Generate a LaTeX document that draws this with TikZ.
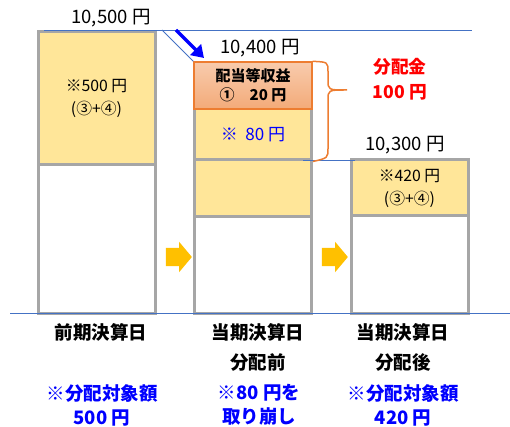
\documentclass[tikz,border=0pt]{standalone}
\usepackage{fontspec}
\setmainfont{Noto Sans CJK JP}
\usetikzlibrary{shapes.arrows, positioning, arrows.meta}

\definecolor{boxgray}{RGB}{166,166,166}
\definecolor{boxyellow}{RGB}{255,230,153}
\definecolor{lineblue}{RGB}{68,114,196}
\definecolor{boxorange}{RGB}{237,125,49}
\definecolor{goldarrow}{RGB}{255,192,0}

\begin{document}
\begin{tikzpicture}[
    x=1pt, y=-1pt,
    bar/.style={
        draw=boxgray, line width=3pt, minimum width=117pt,
        inner sep=0pt, align=center, font=\fontsize{15.8}{23}\selectfont
    },
    yellowbar/.style={bar, fill=boxyellow},
    whitebar/.style={bar, fill=white},
    divbar/.style={
        draw=boxorange, line width=1.3pt, minimum width=118pt, inner sep=0pt,
        align=center, top color=boxorange!40!white, bottom color=boxorange!65!white,
        font=\bfseries\fontsize{15}{19}\selectfont
    },
    level/.style={draw=lineblue, line width=0.8pt},
    value/.style={font=\fontsize{18.5}{20}\selectfont},
    caption/.style={font=\bfseries\fontsize{18.5}{30}\selectfont, align=center},
    note/.style={font=\bfseries\fontsize{18.5}{24}\selectfont, align=center, text=blue},
    step arrow/.style={
        single arrow, fill=goldarrow, draw=none, minimum height=26pt,
        inner xsep=0pt, inner ysep=9pt, single arrow head extend=6pt,
        single arrow tip angle=100
    }
]
\useasboundingbox (0,0) rectangle (510,427);

% -------------------------
% Bars
% -------------------------

% 1. previous closing date
\node[whitebar, minimum height=150pt] (prevbase) at (96.5,238) {};
\node[yellowbar, minimum height=133pt] (prevtop) at (96.5,98) {※500 円\\(③+④)};

% 2. current closing date, before distribution
\node[whitebar, minimum height=96pt] (prebase) at (253,265) {};
\node[yellowbar, minimum height=57pt] (prelow) at (253,188.5) {};
\node[yellowbar, minimum height=51pt, text=blue, font=\fontsize{17}{20}\selectfont] (premid) at (253,134.5) {※\ \ 80 円};
\node[divbar, minimum height=47pt] (preinc) at (253,85.5) {配当等収益\\①\quad 20 円};

% 3. current closing date, after distribution
\node[whitebar, minimum height=97pt] (postbase) at (409.5,264.5) {};
\node[yellowbar, minimum height=56pt] (posttop) at (409.5,188) {※420 円\\(③+④)};

% -------------------------
% Levels
% -------------------------
\coordinate (topleft) at (44,30);
\coordinate (topright) at (472,30);
\coordinate (slopestart) at (162,30);
\coordinate (midleft) at (303,160);
\coordinate (midright) at (355,160);
\coordinate (baseleft) at (10,313);
\coordinate (baseright) at (510,313);

\draw[level] (topleft) -- (topright);
\draw[level] (slopestart) -- (preinc.north west);
\draw[level] (midleft) -- (midright);
\draw[level] (baseleft) -- (baseright);

% thick blue arrow
\coordinate (dropstart) at (176,30);
\coordinate (dropend) at (204,58);
\draw[blue, line width=3.5pt, -{Triangle[length=12pt,width=15pt]}] (dropstart) -- (dropend);

% values
\node[value] (prevval) at (111,18) {10,500 円};
\node[value] (preval) at (260,48) {10,400 円};
\node[value] (postval) at (405,145) {10,300 円};

% brace
\draw[boxorange, line width=1.5pt]
    (preinc.north east) .. controls (328,62) .. (328,72) -- (328,80)
    .. controls (328,90) .. (347,90)
    .. controls (328,90) .. (328,100) -- (328,148)
    .. controls (328,158) .. (premid.south east);
\node[font=\bfseries\fontsize{17.7}{25}\selectfont, text=red, align=center] (payout) at (400,79) {分配金\\100 円};

% step arrows
\node[step arrow] (step1) at (175,257) {};
\node[step arrow] (step2) at (331,257) {};

% -------------------------
% Captions
% -------------------------
\node[caption] (capprev) at (101,332) {前期決算日};
\node[caption] (cappre) at (258,347) {当期決算日\\分配前};
\node[caption] (cappost) at (403,347) {当期決算日\\分配後};

\node[note] (noteprev) at (102,405) {※分配対象額\\500 円};
\node[note] (notepre) at (259,405) {※80 円を\\取り崩し};
\node[note] (notepost) at (403,405) {※分配対象額\\420 円};

\end{tikzpicture}
\end{document}
